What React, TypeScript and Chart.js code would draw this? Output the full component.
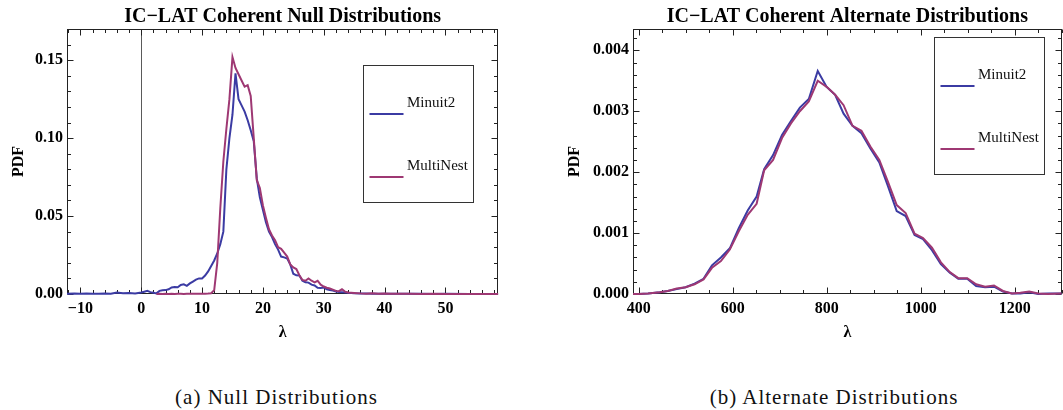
import React, { useEffect, useRef } from "react";
import { Chart, registerables } from "chart.js";

Chart.register(...registerables);

const FONT = "'Liberation Serif', 'Times New Roman', Times, serif";

// ---------- (a) Null distributions ----------
const nullLambda = [
  -12.2, -11, -10, -9, -8, -7, -6, -5, -4, -3,
  -2, -1, 0, 0.5, 1, 1.5, 2, 2.5, 3, 3.5,
  4, 4.5, 5, 5.5, 6, 6.5, 7, 7.5, 8, 8.5,
  9, 9.5, 10, 10.5, 11, 11.5, 12, 12.5, 13, 13.5,
  14, 14.5, 15, 15.5, 16, 16.5, 17, 17.5, 18, 18.5,
  19, 19.5, 20, 20.5, 21, 21.5, 22, 22.5, 23, 23.5,
  24, 24.5, 25, 25.5, 26, 26.5, 27, 27.5, 28, 28.5,
  29, 29.5, 30, 30.5, 31, 31.5, 32, 32.5, 33, 33.5,
  34, 35, 36, 37, 38, 39, 40, 41, 42, 44,
  46, 48, 50, 54, 58.7,
];
const nullMinuit2 = [
  0.0002, 0.0003, 0.0002, 0.0003, 0.0001, 0.0002, 0.0003, 0.0002, 0.001, 0.0005,
  0.0006, 0.0004, 0.001, 0.0015, 0.002, 0.0012, 0.0008, 0.0004, 0.002, 0.0024,
  0.0025, 0.003, 0.0042, 0.0045, 0.0043, 0.0058, 0.0062, 0.0052, 0.0068, 0.008,
  0.0092, 0.01, 0.01, 0.0118, 0.0145, 0.018, 0.0215, 0.026, 0.032, 0.04,
  0.08, 0.1, 0.115, 0.1415, 0.125, 0.121, 0.117, 0.1115, 0.105, 0.098,
  0.074, 0.062, 0.054, 0.046, 0.04, 0.0365, 0.032, 0.0285, 0.024, 0.0235,
  0.0228, 0.019, 0.013, 0.012, 0.0118, 0.0085, 0.0075, 0.0073, 0.006, 0.0055,
  0.004, 0.0038, 0.0042, 0.003, 0.0026, 0.0022, 0.0016, 0.0013, 0.0012, 0.001,
  0.0008, 0.0005, 0.0004, 0.0003, 0.0002, 0.0002, 0.0001, 0.0002, 0.0001, 0.0001,
  0.0001, 0, 0.0001, 0, 0,
];
const nullMultiNest = [
  null, null, null, null, null, null, null, null, null, null,
  null, null, null, null, null, null, null, 0, 0.0001, 0,
  0.0001, 0, 0.0001, 0, 0.0001, 0.0001, 0, 0.0001, 0.0001, 0.0002,
  0.0001, 0.0002, 0.0002, 0.0002, 0.0003, 0.0005, 0.0025, 0.02, 0.055, 0.085,
  0.106, 0.125, 0.152, 0.145, 0.141, 0.137, 0.133, 0.134, 0.127, 0.1,
  0.073, 0.068, 0.057, 0.049, 0.0415, 0.0375, 0.0345, 0.03, 0.029, 0.0265,
  0.024, 0.019, 0.017, 0.016, 0.012, 0.009, 0.0085, 0.01, 0.0085, 0.0075,
  0.0085, 0.006, 0.0048, 0.004, 0.0035, 0.0028, 0.002, 0.0018, 0.003, 0.0015,
  0.001, 0.0007, 0.0004, 0.0002, 0.0005, 0.0002, 0.0003, 0.0001, 0.0002, 0.0001,
  0, 0.0001, 0, 0, 0,
];
const nullXTicks = [-10, 0, 10, 20, 30, 40, 50];
const nullYTicks = [0, 0.05, 0.1, 0.15];

// ---------- (b) Alternate distributions ----------
const altLambda = [
  388, 400, 420, 445, 462, 481, 500, 519, 538, 556,
  575, 594, 613, 632, 651, 667, 686, 705, 724, 743,
  762, 781, 800, 818, 836, 855, 874, 893, 912, 930,
  949, 968, 987, 1005, 1024, 1043, 1062, 1080, 1099, 1118,
  1137, 1156, 1175, 1194, 1212, 1231, 1250, 1270, 1300,
];
const altMinuit2 = [
  0, 0, 0.00001, 0.00003, 0.00005, 0.00008, 0.00011, 0.00017, 0.00025, 0.00047,
  0.0006, 0.00075, 0.00108, 0.00137, 0.0016, 0.00205, 0.00228, 0.00261, 0.00284, 0.00306,
  0.0032, 0.00366, 0.0034, 0.00327, 0.00296, 0.00276, 0.00264, 0.00239, 0.00216, 0.00178,
  0.00136, 0.00128, 0.00097, 0.0009, 0.00072, 0.00049, 0.00035, 0.00025, 0.00025, 0.00013,
  0.00011, 0.00012, 0.00004, 0.00001, 0.00001, 0.00003, 0, 0.00001, 0.00001,
];
const altMultiNest = [
  0, 0, 0.00001, 0.00003, 0.00005, 0.00009, 0.00011, 0.00016, 0.00024, 0.00043,
  0.00054, 0.00073, 0.00103, 0.0013, 0.00148, 0.00203, 0.0022, 0.00256, 0.0028, 0.003,
  0.00316, 0.0035, 0.0034, 0.00327, 0.0031, 0.00276, 0.00268, 0.00242, 0.0022, 0.00185,
  0.00146, 0.00133, 0.00099, 0.00092, 0.00076, 0.00052, 0.00036, 0.00026, 0.00026, 0.00016,
  0.00012, 0.00014, 0.00005, 0.00001, 0.00002, 0.00004, 0.00001, 0, 0.00001,
];
const altXTicks = [400, 600, 800, 1000, 1200];
const altYTicks = [0, 0.001, 0.002, 0.003, 0.004];

const seriesNames = ["Minuit2", "MultiNest"];
const seriesColors = ["#3b3ba3", "#9e3873"];

const fmtSigned = (v: number) => (v < 0 ? "\u2212" + Math.abs(v) : String(v));

// frame with inward ticks on all four sides + optional zero line
const framePlugin = {
  id: "frame",
  beforeDatasetsDraw(chart: any, _args: any, opts: any) {
    const { ctx, chartArea: a } = chart;
    const xs = chart.scales.x;
    const ys = chart.scales.y;
    const L = Math.round(a.left) + 0.5;
    const R = Math.round(a.right) - 0.5;
    const T = Math.round(a.top) + 0.5;
    const B = Math.round(a.bottom) - 0.5;
    ctx.save();
    if (opts.zeroLine !== undefined && opts.zeroLine !== null) {
      const p = Math.round(xs.getPixelForValue(opts.zeroLine)) + 0.5;
      ctx.strokeStyle = "#5a5a5a";
      ctx.lineWidth = 1;
      ctx.beginPath();
      ctx.moveTo(p, T);
      ctx.lineTo(p, B);
      ctx.stroke();
    }
    ctx.strokeStyle = "#222";
    ctx.lineWidth = 1;
    ctx.strokeRect(L, T, R - L, B - T);
    ctx.beginPath();
    const isMajor = (v: number, m: number) => Math.abs(v / m - Math.round(v / m)) < 1e-6;
    const i0 = Math.ceil(xs.min / opts.xMinor - 1e-9);
    const i1 = Math.floor(xs.max / opts.xMinor + 1e-9);
    for (let i = i0; i <= i1; i++) {
      const v = i * opts.xMinor;
      const len = isMajor(v, opts.xMajor) ? 6 : 3.5;
      const p = Math.round(xs.getPixelForValue(v)) + 0.5;
      ctx.moveTo(p, B);
      ctx.lineTo(p, B - len);
      ctx.moveTo(p, T);
      ctx.lineTo(p, T + len);
    }
    const j0 = Math.ceil(ys.min / opts.yMinor - 1e-9);
    const j1 = Math.floor(ys.max / opts.yMinor + 1e-9);
    for (let j = j0; j <= j1; j++) {
      const v = j * opts.yMinor;
      const len = isMajor(v, opts.yMajor) ? 6 : 3.5;
      const p = Math.round(ys.getPixelForValue(v)) + 0.5;
      ctx.moveTo(L, p);
      ctx.lineTo(L + len, p);
      ctx.moveTo(R, p);
      ctx.lineTo(R - len, p);
    }
    ctx.stroke();
    ctx.restore();
  },
};

// boxed legend with line sample below-left of the label
const boxLegendPlugin = {
  id: "boxLegend",
  afterDatasetsDraw(chart: any, _args: any, opts: any) {
    const { ctx, chartArea: a } = chart;
    const x0 = Math.round(a.left + opts.dx) + 0.5;
    const y0 = Math.round(a.top + opts.dy) + 0.5;
    ctx.save();
    ctx.fillStyle = "#ffffff";
    ctx.fillRect(x0, y0, opts.w, opts.h);
    ctx.strokeStyle = "#333";
    ctx.lineWidth = 1;
    ctx.strokeRect(x0, y0, opts.w, opts.h);
    chart.data.datasets.forEach((ds: any, i: number) => {
      const ly = Math.round(y0 + opts.firstLine + i * opts.gap);
      ctx.strokeStyle = ds.borderColor;
      ctx.lineWidth = 2;
      ctx.beginPath();
      ctx.moveTo(x0 + 6, ly);
      ctx.lineTo(x0 + 40, ly);
      ctx.stroke();
      ctx.fillStyle = "#111";
      ctx.font = "15px " + FONT;
      ctx.textBaseline = "middle";
      ctx.textAlign = "left";
      ctx.fillText(ds.label, x0 + 43.5, ly - 11);
    });
    ctx.restore();
  },
};

function buildConfig(p: any) {
  const tickFont = { family: FONT, size: 16, weight: "bold" };
  return {
    type: "line",
    data: {
      datasets: p.series.map((ys: any[], i: number) => ({
        label: seriesNames[i],
        data: p.xs.map((x: number, j: number) => ({ x, y: ys[j] })),
        borderColor: seriesColors[i],
        backgroundColor: seriesColors[i],
        borderWidth: 2,
        pointRadius: 0,
        fill: false,
        tension: 0,
        spanGaps: false,
        order: i === 0 ? 2 : 1,
        clip: { left: 0, top: 0, right: 0, bottom: 2 },
      })),
    },
    options: {
      responsive: false,
      animation: false,
      events: [],
      layout: { padding: { left: 0, right: p.padRight, top: 0, bottom: 0 } },
      plugins: {
        legend: { display: false },
        tooltip: { enabled: false },
        title: {
          display: true,
          text: p.title,
          fullSize: false,
          color: "#000",
          font: { family: FONT, size: 20, weight: "bold", lineHeight: 1.2 },
          padding: { top: 5, bottom: 0 },
        },
        frame: p.frame,
        boxLegend: p.legend,
      },
      scales: {
        x: {
          type: "linear",
          min: p.xMin,
          max: p.xMax,
          afterBuildTicks: (s: any) => {
            s.ticks = p.xTicks.map((v: number) => ({ value: v }));
          },
          afterFit: (s: any) => {
            s.height = 51;
          },
          grid: { display: false, drawTicks: false },
          border: { display: false },
          ticks: {
            color: "#000",
            padding: 5,
            autoSkip: false,
            maxRotation: 0,
            font: tickFont,
            callback: (v: number) => p.xFmt(v),
          },
          title: {
            display: true,
            text: "λ",
            color: "#000",
            font: { family: FONT, size: 16, weight: "bold" },
            padding: { top: 0, bottom: 2.4 },
          },
        },
        y: {
          type: "linear",
          min: 0,
          max: p.yMax,
          afterBuildTicks: (s: any) => {
            s.ticks = p.yTicks.map((v: number) => ({ value: v }));
          },
          afterFit: (s: any) => {
            s.width = p.yWidth;
          },
          grid: { display: false, drawTicks: false },
          border: { display: false },
          ticks: {
            color: "#000",
            padding: 4,
            autoSkip: false,
            font: tickFont,
            callback: (v: number) => p.yFmt(v),
          },
          title: {
            display: true,
            text: "PDF",
            color: "#000",
            font: { family: FONT, size: 16, weight: "bold" },
            padding: { top: p.yTitlePad, bottom: 0 },
          },
        },
      },
    },
    plugins: [framePlugin, boxLegendPlugin],
  };
}

const nullParams = () => ({
  title: "IC\u2212LAT Coherent Null Distributions",
  xs: nullLambda,
  series: [nullMinuit2, nullMultiNest],
  xMin: -12.2,
  xMax: 58.7,
  yMax: 0.17,
  xTicks: nullXTicks,
  yTicks: nullYTicks,
  xFmt: fmtSigned,
  yFmt: (v: number) => v.toFixed(2),
  yWidth: 67,
  yTitlePad: 9.2,
  padRight: 31.7,
  frame: { xMinor: 2, xMajor: 10, yMinor: 0.01, yMajor: 0.05, zeroLine: 0 },
  legend: { dx: 296.3, dy: 36, w: 110, h: 137, firstLine: 48, gap: 63 },
});

const altParams = () => ({
  title: "IC\u2212LAT Coherent Alternate Distributions",
  xs: altLambda,
  series: [altMinuit2, altMultiNest],
  xMin: 388,
  xMax: 1300,
  yMax: 0.00435,
  xTicks: altXTicks,
  yTicks: altYTicks,
  xFmt: (v: number) => String(v),
  yFmt: (v: number) => v.toFixed(3),
  yWidth: 103,
  yTitlePad: 35.4,
  padRight: 1.3,
  frame: { xMinor: 50, xMajor: 200, yMinor: 0.0002, yMajor: 0.001, zeroLine: null },
  legend: { dx: 301.3, dy: 8.4, w: 110, h: 137, firstLine: 48, gap: 63 },
});

function PlotCanvas({ make, left, width, height }: any) {
  const ref = useRef<HTMLCanvasElement>(null);
  useEffect(() => {
    const chart = new Chart(ref.current as HTMLCanvasElement, buildConfig(make()) as any);
    return () => chart.destroy();
  }, []);
  return (
    <canvas
      ref={ref}
      width={width}
      height={height}
      style={{ position: "absolute", left, top: 0, width, height }}
    />
  );
}

const captionStyle: any = {
  position: "absolute",
  top: 385,
  width: 300,
  textAlign: "center",
  fontFamily: FONT,
  fontSize: 21,
  lineHeight: "24px",
  letterSpacing: "1px",
  color: "#111",
  whiteSpace: "nowrap",
};

export default function App() {
  return (
    <div
      style={{
        position: "absolute",
        left: 0,
        top: 0,
        width: 1063,
        height: 410,
        background: "#fff",
        overflow: "hidden",
      }}
    >
      <PlotCanvas make={nullParams} left={0} width={530} height={345} />
      <PlotCanvas make={altParams} left={530} width={533} height={345} />
      <div style={{ ...captionStyle, left: 126.5 }}>(a) Null Distributions</div>
      <div style={{ ...captionStyle, left: 684 }}>(b) Alternate Distributions</div>
    </div>
  );
}
